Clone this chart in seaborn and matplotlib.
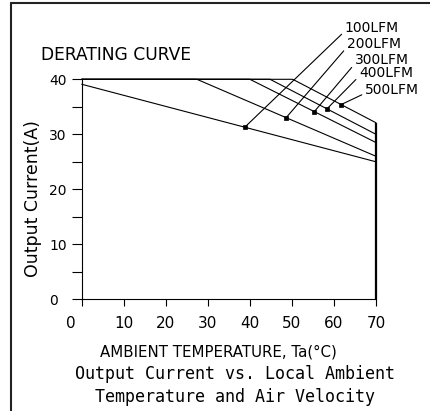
import matplotlib
matplotlib.use("Agg")
import matplotlib.pyplot as plt
import matplotlib.transforms as mtransforms
from matplotlib.lines import Line2D
from matplotlib.ticker import MultipleLocator
import pandas as pd
import seaborn as sns

# Derating curves: break points (ambient temperature, output current)
airflow = ["100LFM", "200LFM", "300LFM", "400LFM", "500LFM"]
temp_100 = [0, 70]
curr_100 = [39.1, 25.0]
temp_200 = [0, 27.4, 70]
curr_200 = [40, 40, 26.0]
temp_300 = [0, 40.0, 70]
curr_300 = [40, 40, 28.5]
temp_400 = [0, 44.8, 70]
curr_400 = [40, 40, 30.0]
temp_500 = [0, 50.2, 70]
curr_500 = [40, 40, 32.1]

# Dots on each curve that the airflow labels point to
marker_temp = [38.8, 48.6, 55.3, 58.3, 61.7]
marker_curr = [31.3, 33.0, 34.1, 34.6, 35.4]

# Where each airflow label sits (data coordinates, above the plot)
label_temp = [62.6, 63.1, 65.0, 66.0, 67.4]
label_curr = [49.4, 46.5, 43.5, 41.2, 38.1]

x_ticks = [0, 10, 20, 30, 40, 50, 60, 70]
y_ticks = [0, 10, 20, 30, 40]

temps = [temp_100, temp_200, temp_300, temp_400, temp_500]
currs = [curr_100, curr_200, curr_300, curr_400, curr_500]
df = pd.concat(
    [pd.DataFrame({"temp": t, "current": c, "airflow": name})
     for name, t, c in zip(airflow, temps, currs)],
    ignore_index=True,
)

sns.set_style("ticks")
plt.rcParams["font.family"] = ["DejaVu Sans"]
plt.rcParams["text.color"] = "black"
plt.rcParams["axes.labelcolor"] = "black"

fig = plt.figure(figsize=(4.30, 4.11), dpi=100)
ax = fig.add_axes([81.7 / 430, 1 - 299.3 / 411, 294.3 / 430, 220 / 411])

sns.lineplot(data=df, x="temp", y="current", hue="airflow",
             palette=["black"] * len(airflow), estimator=None, sort=False,
             legend=False, linewidth=0.8, ax=ax)
for ln in ax.lines:
    ln.set_clip_on(False)

# Right-hand limit of the curves at 70 degC
ax.vlines(70, 0, max(c[-1] for c in currs), color="black", linewidth=1.6,
          clip_on=False)

sns.scatterplot(x=marker_temp, y=marker_curr, color="black", marker="s",
                s=9, edgecolor="black", linewidth=0.5, zorder=5, ax=ax,
                clip_on=False)

for name, mt, mc, lt, lc in zip(airflow, marker_temp, marker_curr,
                                label_temp, label_curr):
    ax.annotate(name, xy=(mt, mc), xytext=(lt, lc), textcoords="data",
                ha="left", va="center", fontsize=10, annotation_clip=False,
                arrowprops=dict(arrowstyle="-", color="black", lw=0.8,
                                shrinkA=0, shrinkB=0, relpos=(0, 0.25)))

ax.set_xlim(0, 70)
ax.set_ylim(0, 40)
ax.set_xticks(x_ticks)
ax.set_xticklabels([str(v) for v in x_ticks])
ax.set_yticks(y_ticks)
ax.set_yticklabels([str(v) for v in y_ticks])
ax.yaxis.set_minor_locator(MultipleLocator(5))

sns.despine(ax=ax, top=True, right=True)
for side in ("left", "bottom"):
    ax.spines[side].set_linewidth(0.8)
    ax.spines[side].set_color("black")

ax.tick_params(axis="x", which="major", direction="out", length=5, width=0.8,
               pad=7, labelsize=11, colors="black")
ax.tick_params(axis="y", which="both", direction="out", length=7, width=0.8,
               colors="black")
ax.tick_params(axis="y", which="major", pad=16.5, labelsize=10)
for lab in ax.get_yticklabels():
    lab.set_horizontalalignment("left")

# the "0" label at the origin sits a little left of its tick
zero_lab = ax.get_xticklabels()[0]
zero_lab.set_transform(zero_lab.get_transform() +
                       mtransforms.ScaledTranslation(-0.11, 0, fig.dpi_scale_trans))

ax.set_ylabel("Output Current(A)", fontsize=12.5)
ax.yaxis.set_label_coords(-0.1655, 0.456)
ax.yaxis.label.set_verticalalignment("center")

ax.set_xlabel("AMBIENT TEMPERATURE, Ta(°C)", fontsize=10.8)
ax.xaxis.set_label_coords(0.465, -0.238)
ax.xaxis.label.set_verticalalignment("center")

ax.text(-0.138, 1.11, "DERATING CURVE", transform=ax.transAxes,
        ha="left", va="center", fontsize=12.3)

caption_kw = dict(ha="center", va="center", fontsize=12,
                  family=["DejaVu Sans Mono"])
fig.text(235 / 430, 1 - 374.3 / 411, "Output Current vs. Local Ambient",
         **caption_kw)
fig.text(235 / 430, 1 - 396.7 / 411, "Temperature and Air Velocity",
         **caption_kw)

# Drawing frame along the left and top edges
frame_kw = dict(color="#222222", linewidth=1.5, transform=fig.transFigure)
fig.add_artist(Line2D([11.3 / 430, 11.3 / 430], [0, 1 - 3 / 411], **frame_kw))
fig.add_artist(Line2D([11.3 / 430, 1], [1 - 3 / 411, 1 - 3 / 411], **frame_kw))

fig.savefig("out.png", dpi=100, facecolor="white")
